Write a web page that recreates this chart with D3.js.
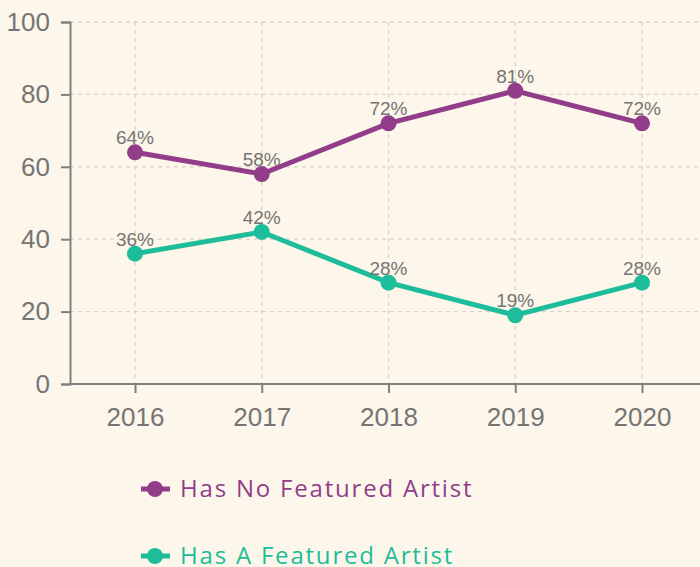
<!DOCTYPE html>
<html><head><meta charset="utf-8">
<script src="https://cdn.jsdelivr.net/npm/d3@7"></script>
<style>
html,body{margin:0;padding:0;background:#fdf6ea;}
svg{display:block;}
</style></head>
<body>
<svg id="chart" width="700" height="567"></svg>
<script>
const years = ["2016","2017","2018","2019","2020"];
const noFeatured = [64, 58, 72, 81, 72];
const hasFeatured = [36, 42, 28, 19, 28];
const seriesNames = ["Has No Featured Artist", "Has A Featured Artist"];
const seriesColors = ["#913d8a", "#1dbc9b"];
const yTicks = [0, 20, 40, 60, 80, 100];

const svg = d3.select("#chart");
svg.append("rect").attr("width",700).attr("height",567).attr("fill","#fdf6ea");

const x = d3.scalePoint().domain(years).range([135, 642]);
const y = d3.scaleLinear().domain([0,100]).range([384, 22]);
const left = 70, right = 700;

const grid = svg.append("g");
grid.selectAll("line.h").data(yTicks).join("line")
  .attr("x1", left).attr("x2", right)
  .attr("y1", d=>y(d)).attr("y2", d=>y(d))
  .attr("stroke","#d9d1c5").attr("stroke-width",1.3).attr("stroke-dasharray","4,4");
grid.selectAll("line.v").data(years).join("line")
  .attr("x1", d=>x(d)).attr("x2", d=>x(d))
  .attr("y1", y(100)).attr("y2", y(0))
  .attr("stroke","#d9d1c5").attr("stroke-width",1.3).attr("stroke-dasharray","4,4");

const yAxis = svg.append("g").attr("transform",`translate(${left},0)`)
  .call(d3.axisLeft(y).tickValues(yTicks).tickSize(9).tickPadding(11));
yAxis.selectAll("text").attr("font-family","Liberation Sans, Arial, sans-serif").attr("font-size",26).attr("fill","#757575");

const xAxis = svg.append("g").attr("transform",`translate(0,${y(0)})`)
  .call(d3.axisBottom(x).tickSize(9).tickSizeOuter(0).tickPadding(15));
xAxis.select(".domain").attr("d", `M${left},0H${right}`);
xAxis.selectAll("text").attr("font-family","Liberation Sans, Arial, sans-serif").attr("font-size",26).attr("fill","#757575");

[yAxis, xAxis].forEach(a=>{
  a.selectAll(".domain").attr("stroke","#808080").attr("stroke-width",2);
  a.selectAll(".tick line").attr("stroke","#808080").attr("stroke-width",2);
});

const series = [noFeatured, hasFeatured];
const line = d3.line().x((d,i)=>x(years[i])).y(d=>y(d));
series.forEach((vals, si)=>{
  const g = svg.append("g");
  g.append("path").datum(vals).attr("d", line)
    .attr("fill","none").attr("stroke", seriesColors[si]).attr("stroke-width",5);
  g.selectAll("circle").data(vals).join("circle")
    .attr("cx",(d,i)=>x(years[i])).attr("cy", d=>y(d)).attr("r",8)
    .attr("fill", seriesColors[si]);
  g.selectAll("text").data(vals).join("text")
    .attr("x",(d,i)=>x(years[i])).attr("y", d=>y(d)-8)
    .attr("text-anchor","middle")
    .attr("font-family","Liberation Sans, Arial, sans-serif").attr("font-size",19)
    .attr("fill","#757575")
    .text(d=>d+"%");
});

const legend = svg.append("g");
const legY = [489, 556];
seriesNames.forEach((n,i)=>{
  const lg = legend.append("g").attr("transform",`translate(0,${legY[i]})`);
  lg.append("line").attr("x1",141).attr("x2",170).attr("y1",0).attr("y2",0)
    .attr("stroke",seriesColors[i]).attr("stroke-width",5);
  lg.append("circle").attr("cx",155).attr("cy",0).attr("r",8).attr("fill",seriesColors[i]);
  lg.append("text").attr("x",180).attr("y",0).attr("dy","0.35em")
    .attr("font-family","Open Sans, sans-serif").attr("font-size",24)
    .attr("letter-spacing","1.8px")
    .attr("fill",seriesColors[i]).text(n);
});
</script>
</body></html>
